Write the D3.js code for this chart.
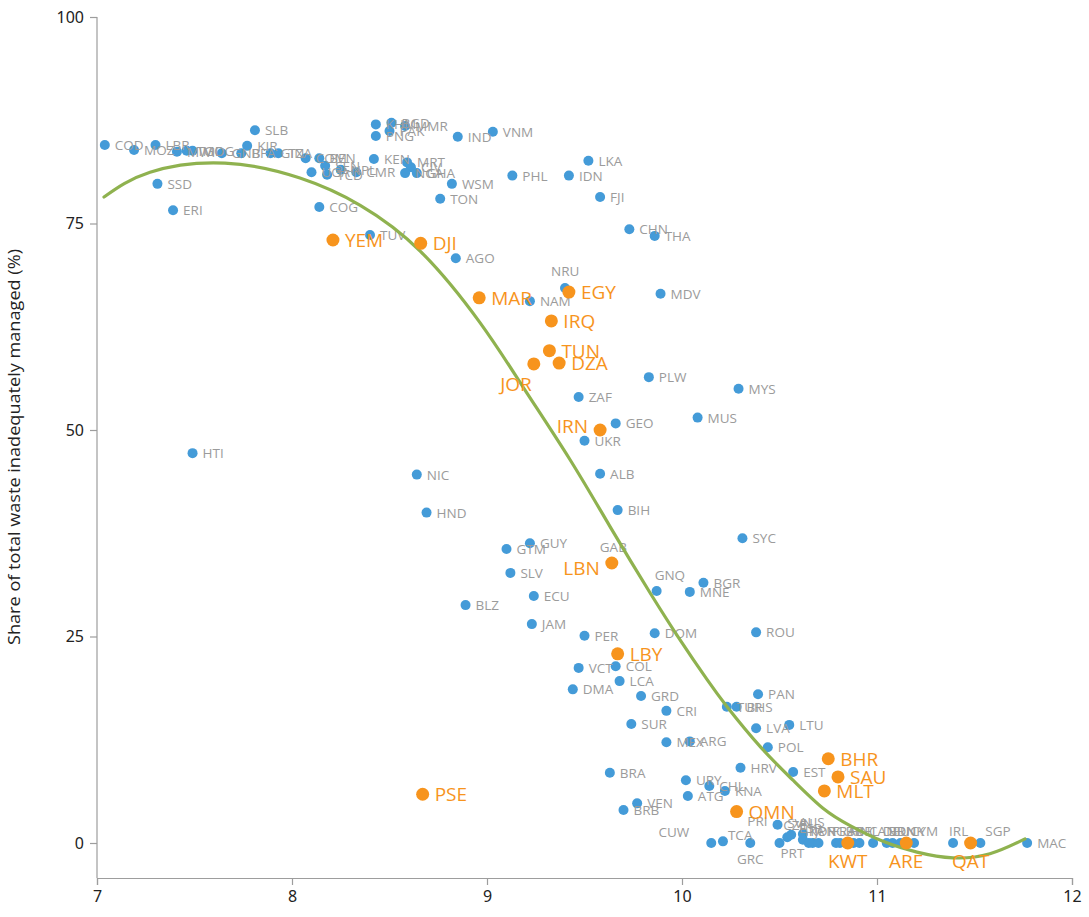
<!DOCTYPE html>
<html><head><meta charset="utf-8">
<script src="https://cdn.jsdelivr.net/npm/d3@7"></script>
<style>
body{margin:0;background:#fff;}
svg{display:block;}
</style></head>
<body>
<script>
// ---- data ----
const blueCodes = ["COD","MOZ","LBR","MWI","TGO","MDG","GNB","BFA","KIR","SLB","GIN","TZA","COM","BEN","UGA","SEN","TCD","NPL","CMR","KEN","COG","SSD","ERI","HTI","KHM","BGD","MMR","PNG","PAK","IND","VNM","MRT","CIV","NGA","GHA","WSM","TON","PHL","IDN","LKA","FJI","TUV","AGO","CHN","THA","NRU","NAM","MDV","PLW","MYS","ZAF","MUS","GEO","UKR","NIC","ALB","HND","BIH","SYC","GUY","GTM","GAB","SLV","GNQ","BGR","MNE","BLZ","ECU","JAM","DOM","ROU","PER","VCT","COL","LCA","DMA","GRD","PAN","TUR","BHS","CRI","SUR","LVA","LTU","MEX","ARG","POL","HRV","EST","BRA","URY","CHL","ATG","KNA","VEN","BRB","CUW","TCA","GRC","PRI","PRT","CZE","SVN","AUS","ESP","ITA","KOR","JPN","FRA","GBR","FIN","BEL","CAN","DEU","BRN","DNK","CYM","IRL","SGP","MAC"];
const blueGdpLog = [7.04,7.19,7.30,7.41,7.46,7.49,7.64,7.74,7.77,7.81,7.89,7.93,8.07,8.14,8.10,8.17,8.18,8.25,8.33,8.42,8.14,7.31,7.39,7.49,8.43,8.51,8.58,8.43,8.50,8.85,9.03,8.59,8.61,8.58,8.64,8.82,8.76,9.13,9.42,9.52,9.58,8.40,8.84,9.73,9.86,9.40,9.22,9.89,9.83,10.29,9.47,10.08,9.66,9.50,8.64,9.58,8.69,9.67,10.31,9.22,9.10,9.64,9.12,9.87,10.11,10.04,8.89,9.24,9.23,9.86,10.38,9.50,9.47,9.66,9.68,9.44,9.79,10.39,10.23,10.28,9.92,9.74,10.38,10.55,9.92,10.04,10.44,10.30,10.57,9.63,10.02,10.14,10.03,10.22,9.77,9.70,10.15,10.21,10.35,10.49,10.50,10.54,10.56,10.62,10.62,10.65,10.67,10.70,10.79,10.81,10.88,10.91,10.98,11.05,11.08,11.12,11.19,11.39,11.53,11.77];
const blueShare = [84.5,83.9,84.5,83.7,83.8,83.8,83.5,83.5,84.4,86.3,83.5,83.5,82.9,82.9,81.2,82.0,80.9,81.5,81.2,82.8,77.0,79.8,76.6,47.2,87.0,87.2,86.8,85.6,86.2,85.5,86.1,82.4,81.8,81.1,81.1,79.8,78.0,80.8,80.8,82.6,78.2,73.6,70.8,74.3,73.5,67.2,65.6,66.5,56.4,55.0,54.0,51.5,50.8,48.7,44.6,44.7,40.0,40.3,36.9,36.3,35.6,33.9,32.7,30.5,31.5,30.4,28.8,29.9,26.5,25.4,25.5,25.1,21.2,21.4,19.6,18.6,17.8,18.0,16.5,16.5,16.0,14.4,13.9,14.3,12.2,12.3,11.6,9.1,8.6,8.5,7.6,6.9,5.7,6.3,4.8,4.0,0,0.2,0,2.2,0,0.7,1.0,1.1,0.4,0,0,0,0,0,0,0,0,0,0,0,0,0,0,0];

const mena = ["YEM","DJI","MAR","EGY","IRQ","TUN","DZA","JOR","IRN","LBN","LBY","PSE","OMN","BHR","SAU","MLT","KWT","ARE","QAT"];
const menaGdpLog = [8.21,8.66,8.96,9.42,9.33,9.32,9.37,9.24,9.58,9.64,9.67,8.67,10.28,10.75,10.80,10.73,10.85,11.15,11.48];
const menaShare = [73.0,72.6,66.0,66.7,63.2,59.6,58.1,58.0,50.0,33.9,22.9,5.9,3.8,10.2,8.0,6.3,0,0,0];

// fitted trend line
const trendX = [7.036,7.272,7.656,8.041,8.35,8.66,8.964,9.185,9.426,9.631,9.836,9.99,10.128,10.231,10.40,10.569,10.723,10.862,11.031,11.205,11.39,11.579,11.759];
const trendY = [78.2,81.2,82.3,80.5,77.2,71.6,63.0,55.2,46.4,38.3,30.3,24.6,19.8,16.5,11.7,7.6,4.2,2.1,0.2,-1.1,-1.8,-1.3,0.5];

const xTicks = [7,8,9,10,11,12];
const yTicks = [0,25,50,75,100];
const yTitle = "Share of total waste inadequately managed (%)";

// label placement (style only): default right
const labelPlace = {NRU:"aboveN",GAB:"aboveL",GNQ:"aboveR",CUW:"leftUp",TCA:"rightUp",GRC:"below",PRI:"left",PRT:"belowR",
  CZE:"above",SVN:"above",AUS:"above",ESP:"above",ITA:"above",KOR:"above",JPN:"above",FRA:"above",GBR:"above",FIN:"above",BEL:"above",CAN:"above",DEU:"above",BRN:"above",DNK:"above",CYM:"above",IRL:"above",SGP:"aboveR2",
  JOR:"belowL",IRN:"left",LBN:"leftDown",KWT:"below",ARE:"below",QAT:"below"};

// ---- chart ----
const W=1089,H=917;
const svg=d3.select("body").append("svg").attr("width",W).attr("height",H);
const x=d3.scaleLinear().domain([7,12]).range([97,1072]);
const y=d3.scaleLinear().domain([0,100]).range([843,17]);
const yBottom=878;

const axisColor="#9d9d9d";
// y axis
const gy=svg.append("g").attr("transform","translate(97,0)")
  .call(d3.axisLeft(y).tickValues(yTicks).tickSize(7).tickPadding(6));
gy.select(".domain").remove();
svg.append("line").attr("x1",97).attr("x2",97).attr("y1",17).attr("y2",yBottom).attr("stroke",axisColor).attr("stroke-width",1.2);
gy.selectAll(".tick line").attr("stroke",axisColor).attr("stroke-width",1.2);
gy.selectAll(".tick text").attr("fill","#222").style("font-family","'Noto Sans',sans-serif").style("font-size","16px");

// x axis
const gx=svg.append("g").attr("transform",`translate(0,${yBottom})`)
  .call(d3.axisBottom(x).tickValues(xTicks).tickFormat(d3.format("d")).tickSize(7).tickPadding(6));
gx.select(".domain").attr("stroke",axisColor).attr("stroke-width",1.2);
gx.selectAll(".tick line").attr("stroke",axisColor).attr("stroke-width",1.2);
gx.selectAll(".tick text").attr("fill","#222").style("font-family","'Noto Sans',sans-serif").style("font-size","16px");

svg.append("text").attr("transform","translate(20,447) rotate(-90)")
  .attr("text-anchor","middle").attr("fill","#222")
  .style("font-family","'Open Sans',sans-serif").style("font-size","16px")
  .attr("textLength",396).attr("lengthAdjust","spacingAndGlyphs")
  .text(yTitle);

const blue = blueCodes.map((c,i)=>({c,x:blueGdpLog[i],y:blueShare[i]}));
const orange = mena.map((c,i)=>({c,x:menaGdpLog[i],y:menaShare[i]}));

function placeLabels(sel,off,dy){
  sel.each(function(d){
    const p=labelPlace[d.c]||"right";
    const t=d3.select(this);
    const cx=x(d.x), cy=y(d.y);
    let lx=cx+off, ly=cy, anchor="start";
    switch(p){
      case "above": lx=cx-4; ly=cy-dy; break;
      case "aboveN": lx=cx-14; ly=cy-17; break;
      case "aboveL": lx=cx-12; ly=cy-dy-4; break;
      case "aboveR": lx=cx-2; ly=cy-dy-4; break;
      case "aboveR2": lx=cx+5; ly=cy-dy; break;
      case "leftUp": lx=cx-22; ly=cy-11; anchor="end"; break;
      case "rightUp": lx=cx+5; ly=cy-6; break;
      case "below": lx=cx; ly=cy+dy+4; anchor="middle"; break;
      case "belowR": lx=cx+1; ly=cy+10; break;
      case "belowL": lx=cx-2; ly=cy+dy+6; anchor="end"; break;
      case "left": lx=cx-off; ly=cy-4; anchor="end"; break;
      case "leftDown": lx=cx-off; ly=cy+5; anchor="end"; break;
    }
    t.attr("x",lx).attr("y",ly).attr("text-anchor",anchor);
  });
}

svg.append("g").selectAll("circle").data(blue).join("circle")
  .attr("cx",d=>x(d.x)).attr("cy",d=>y(d.y)).attr("r",5).attr("fill","#449bd8");
svg.append("g").selectAll("text").data(blue).join("text")
  .attr("dominant-baseline","central").attr("fill","#9b9b9b")
  .style("font-family","'Open Sans',sans-serif").style("font-size","13.5px")
  .text(d=>d.c).call(placeLabels,10,12);

const line=d3.line().x(d=>x(d[0])).y(d=>y(d[1])).curve(d3.curveNatural);
svg.append("path").datum(trendX.map((v,i)=>[v,trendY[i]]))
  .attr("d",line).attr("fill","none").attr("stroke","#8fb24f").attr("stroke-width",3.2).attr("stroke-linecap","round");

svg.append("g").selectAll("circle").data(orange).join("circle")
  .attr("cx",d=>x(d.x)).attr("cy",d=>y(d.y)).attr("r",6.5).attr("fill","#f7941d");
svg.append("g").selectAll("text").data(orange).join("text")
  .attr("dominant-baseline","central").attr("fill","#f7941d")
  .style("font-family","'Open Sans',sans-serif").style("font-size","19px")
  .text(d=>d.c).call(placeLabels,12,14);
</script>
</body></html>
